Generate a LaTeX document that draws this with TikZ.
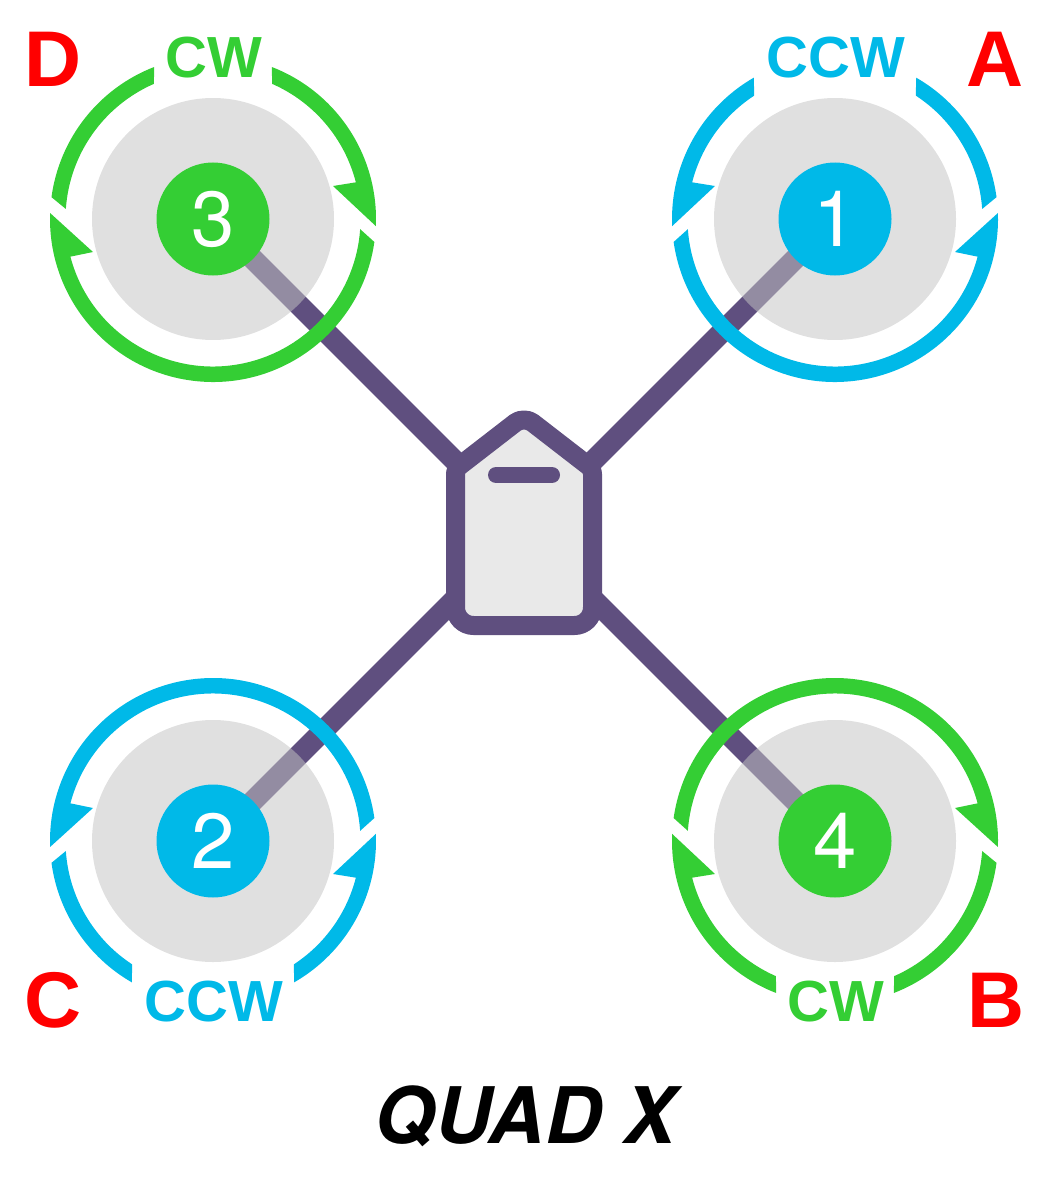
\documentclass[tikz,border=0pt]{standalone}
\usepackage{fontspec}
\setmainfont{Liberation Sans}
\newfontfamily\herosfont{TeX Gyre Heros}
\definecolor{armviolet}{HTML}{5F4F7F}
\definecolor{bodygray}{HTML}{E9E9E9}
\definecolor{ccwblue}{HTML}{00B9E8}
\definecolor{cwgreen}{HTML}{34CE34}
\tikzset{
  arm/.style={draw=armviolet, line width=21},
  disc/.style={circle, fill=black!23, opacity=0.52, minimum size=242, inner sep=0},
  motor/.style={circle, minimum size=113, inner sep=0, text=white, font=\herosfont\fontsize{78}{78}\selectfont},
  spin/.style={font=\fontsize{58}{58}\selectfont\bfseries, anchor=base},
  corner/.style={text=red, font=\fontsize{79}{79}\selectfont\bfseries, anchor=base},
}
\begin{document}
\begin{tikzpicture}[x=1pt,y=-1pt]
\useasboundingbox (0,0) rectangle (1060,1193);

% Motor centres
\coordinate (m1) at (835,219);
\coordinate (m2) at (213,841);
\coordinate (m3) at (213,219);
\coordinate (m4) at (835,841);

% Frame arms
\draw [arm] (m1) -- (m2);
\draw [arm] (m3) -- (m4);

% Prop discs
\foreach \n in {1,2,3,4} {
  \node [disc] (disc\n) at (m\n) {};
}

% Rotation rings: outer and inner angle of the label gap differ for CW and CCW
\foreach \n/\col/\fx/\fy/\go/\gi in {1/ccwblue/1/1/240.1/236.8, 2/ccwblue/-1/-1/240.1/236.8, 3/cwgreen/-1/1/248.8/246.4, 4/cwgreen/1/-1/248.8/246.4} {
  \begin{scope}[shift={(m\n)}, xscale=\fx, yscale=\fy]
    \pgfmathsetmacro{\hi}{-(\gi-180)}
    \pgfmathsetmacro{\ho}{-(\go-180)}
    \fill [\col] (\go:163) arc [start angle=\go, end angle=177.5, radius=163] -- (-120,-33) -- (194.4:147.5) arc [start angle=194.4, end angle=\gi, radius=147.5] -- cycle;
    \fill [\col] (171.9:163) arc [start angle=171.9, end angle=-2.1, radius=163] -- (120,33) -- (14.8:147.5) arc [start angle=14.8, end angle=176.05, radius=147.5] -- cycle;
    \fill [\col] (\ho:163) arc [start angle=\ho, end angle=-7.7, radius=163] -- (-3.9:147.5) arc [start angle=-3.9, end angle=\hi, radius=147.5] -- cycle;
  \end{scope}
}

% Motors
\node [motor, fill=ccwblue] (motor1) at (m1) {1};
\node [motor, fill=ccwblue] (motor2) at (m2) {2};
\node [motor, fill=cwgreen] (motor3) at (m3) {3};
\node [motor, fill=cwgreen] (motor4) at (m4) {4};

% Body
\draw [draw=armviolet, fill=bodygray, line width=19, line join=round]
  (455.5,550) [rounded corners=5] -- (455.5,469) [rounded corners=11] -- (524,416) [rounded corners=5] -- (592.5,469)
  [rounded corners=18] -- (592.5,625.5) -- (455.5,625.5) [sharp corners] -- cycle;
\coordinate (barL) at (496,475);
\coordinate (barR) at (552,475);
\draw [draw=armviolet, line width=16, line cap=round] (barL) -- (barR);

% Spin labels
\node [spin, text=cwgreen] (spin3) at (213.5,78) {CW};
\node [spin, text=ccwblue] (spin1) at (836,78) {CCW};
\node [spin, text=ccwblue] (spin2) at (214,1021) {CCW};
\node [spin, text=cwgreen] (spin4) at (836,1021) {CW};

% Corner labels
\node [corner] (labelD) at (53.5,87) {D};
\node [corner] (labelA) at (995,87) {A};
\node [corner] (labelC) at (53.5,1027) {C};
\node [corner] (labelB) at (996,1027) {B};

% Title
\node [anchor=base, font=\herosfont\fontsize{78}{78}\selectfont\bfseries\itshape] (title) at (525,1143) {QUAD X};

\end{tikzpicture}
\end{document}
